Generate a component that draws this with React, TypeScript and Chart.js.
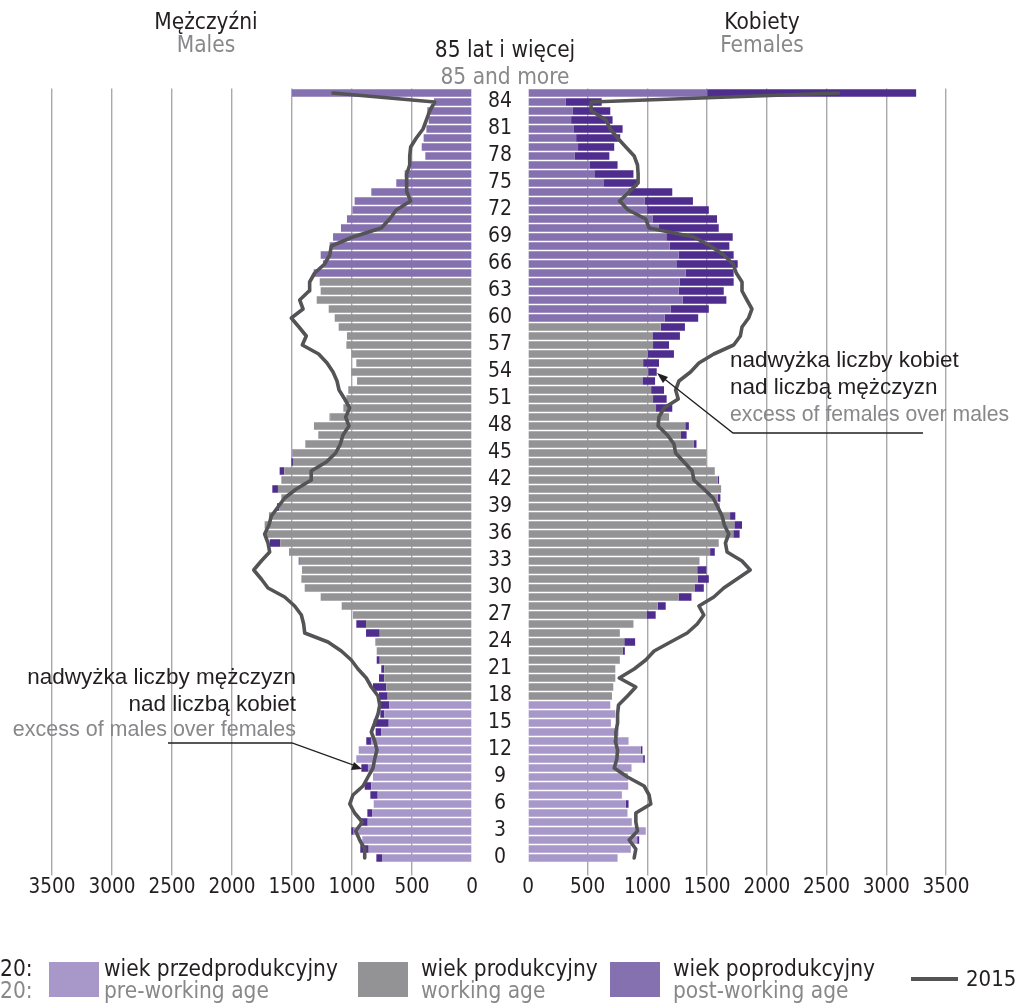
import React, { useEffect, useRef } from 'react';
import { Chart, registerables } from 'chart.js';

Chart.register(...registerables);

// ---------- data ----------
const ageLabels = [
  '0', '1', '2', '3', '4', '5', '6', '7', '8', '9',
  '10', '11', '12', '13', '14', '15', '16', '17', '18', '19',
  '20', '21', '22', '23', '24', '25', '26', '27', '28', '29',
  '30', '31', '32', '33', '34', '35', '36', '37', '38', '39',
  '40', '41', '42', '43', '44', '45', '46', '47', '48', '49',
  '50', '51', '52', '53', '54', '55', '56', '57', '58', '59',
  '60', '61', '62', '63', '64', '65', '66', '67', '68', '69',
  '70', '71', '72', '73', '74', '75', '76', '77', '78', '79',
  '80', '81', '82', '83', '84', '85+',
];

const males = [
  797, 931, 914, 1006, 936, 872, 819, 847, 894, 825,
  922, 964, 944, 881, 803, 819, 764, 769, 775, 825,
  775, 756, 794, 794, 806, 883, 964, 992, 1086, 1261,
  1394, 1422, 1417, 1444, 1525, 1686, 1719, 1728, 1692, 1625,
  1589, 1664, 1589, 1603, 1505, 1497, 1389, 1281, 1317, 1186,
  1072, 1047, 1031, 958, 1006, 964, 1003, 1047, 1042, 1111,
  1144, 1194, 1294, 1261, 1269, 1319, 1242, 1261, 1186, 1158,
  1092, 1042, 997, 978, 839, 631, 561, 514, 389, 419,
  403, 380, 361, 372, 317, 1500,
];

const females = [
  750, 861, 931, 986, 869, 833, 842, 786, 839, 833,
  867, 978, 958, 842, 758, 694, 731, 689, 703, 714,
  731, 731, 769, 811, 897, 769, 883, 1069, 1153, 1369,
  1472, 1514, 1494, 1436, 1564, 1597, 1772, 1792, 1736, 1606,
  1611, 1617, 1600, 1564, 1492, 1494, 1411, 1328, 1347, 1181,
  1208, 1161, 1139, 1064, 1078, 1097, 1222, 1181, 1272, 1314,
  1425, 1514, 1661, 1639, 1722, 1722, 1756, 1722, 1686, 1714,
  1597, 1583, 1514, 1381, 1208, 917, 883, 750, 681, 722,
  772, 792, 708, 689, 617, 3250,
];

const males2015 = [
  894, 894, 936, 969, 914, 978, 1019, 992, 908, 867,
  825, 811, 792, 811, 839, 811, 783, 769, 783, 839,
  881, 950, 1006, 1089, 1200, 1394, 1403, 1422, 1478, 1561,
  1700, 1756, 1819, 1756, 1686, 1700, 1728, 1692, 1672, 1617,
  1561, 1464, 1339, 1340, 1214, 1136, 1097, 1075, 1025, 1053,
  1019, 1061, 1108, 1125, 1158, 1208, 1278, 1414, 1381, 1442,
  1506, 1408, 1436, 1358, 1353, 1311, 1228, 1186, 1172, 992,
  756, 686, 631, 511, 542, 547, 542, 519, 519, 511,
  464, 408, 380, 353, 311, 1158,
];

const females2015 = [
  889, 903, 847, 917, 903, 903, 1028, 1014, 972, 833,
  722, 744, 750, 731, 736, 750, 750, 758, 833, 903,
  764, 889, 986, 1056, 1194, 1333, 1417, 1472, 1431, 1556,
  1639, 1750, 1861, 1792, 1667, 1653, 1681, 1644, 1625, 1589,
  1550, 1472, 1389, 1375, 1306, 1236, 1222, 1167, 1089, 1097,
  1139, 1258, 1236, 1264, 1361, 1431, 1556, 1722, 1778, 1792,
  1847, 1875, 1833, 1792, 1792, 1744, 1717, 1639, 1528, 1389,
  1014, 986, 839, 767, 847, 922, 922, 917, 889, 819,
  750, 689, 653, 533, 528, 2600,
];

const xTicks = [0, 500, 1000, 1500, 2000, 2500, 3000, 3500];

// age group boundaries (index of first age in group)
const WORKING_START = 18;
const MALE_POST_START = 65;
const FEMALE_POST_START = 60;

// ---------- styles ----------
const PRE = '#a898ca';
const WORK = '#939396';
const POST = '#8570b0';
const EXCESS = '#4f2d8e';
const LINE = '#545457';
const GRID = '#a9a9ab';
const TXT = '#231f20';
const SUB = '#88888b';
const COND = "'DejaVu Sans Condensed', 'Liberation Sans Narrow', 'Liberation Sans', sans-serif";
const REGULAR = "'Liberation Sans', Arial, sans-serif";

function buildDatasets(own: number[], other: number[], line: number[], postStart: number) {
  const base = own.map((v, i) => Math.min(v, other[i]));
  const excess = own.map((v, i) => Math.max(0, v - other[i]));
  const pick = (from: number, to: number) => base.map((v, i) => (i >= from && i < to ? v : null));
  const barCommon = { stack: 'pop', barPercentage: 0.84, categoryPercentage: 1, borderWidth: 0 };
  return [
    { type: 'bar', label: 'pre', data: pick(0, WORKING_START), backgroundColor: PRE, ...barCommon },
    { type: 'bar', label: 'work', data: pick(WORKING_START, postStart), backgroundColor: WORK, ...barCommon },
    { type: 'bar', label: 'post', data: pick(postStart, ageLabels.length), backgroundColor: POST, ...barCommon },
    { type: 'bar', label: 'excess', data: excess, backgroundColor: EXCESS, ...barCommon },
    {
      type: 'line', label: '2015', data: line, borderColor: LINE, borderWidth: 3.6,
      pointRadius: 0, tension: 0, stack: 'line', order: -1, borderJoinStyle: 'round', borderCapStyle: 'round',
    },
  ];
}

function makeConfig(side: 'left' | 'right'): any {
  const isLeft = side === 'left';
  const datasets = isLeft
    ? buildDatasets(males, females, males2015, MALE_POST_START)
    : buildDatasets(females, males, females2015, FEMALE_POST_START);
  return {
    type: 'bar',
    data: { labels: ageLabels, datasets },
    options: {
      indexAxis: 'y',
      responsive: false,
      animation: false,
      devicePixelRatio: 1,
      events: [],
      layout: { padding: isLeft ? { top: 88.5, left: 52, right: 0, bottom: 0 } : { top: 88.5, left: 28, right: 71, bottom: 0 } },
      plugins: { legend: { display: false }, tooltip: { enabled: false } },
      scales: {
        x: {
          type: 'linear',
          reverse: isLeft,
          min: xTicks[0],
          max: xTicks[xTicks.length - 1],
          stacked: true,
          afterBuildTicks: (s: any) => { s.ticks = xTicks.map((v) => ({ value: v })); },
          ticks: {
            color: TXT,
            font: { family: COND, size: 20.5, lineHeight: 1 },
            padding: 2,
            maxRotation: 0,
            autoSkip: false,
            callback: (v: any) => String(v),
          },
          grid: {
            color: (c: any) => (c.tick && c.tick.value === 0 ? 'rgba(0,0,0,0)' : GRID),
            lineWidth: 1.4,
            tickLength: 13,
          },
          border: { display: false },
          afterFit: (s: any) => { s.height = 47.5; },
        },
        y: {
          type: 'category',
          reverse: true,
          stacked: true,
          display: isLeft,
          position: 'right',
          grid: { display: false, drawTicks: false },
          border: { display: false },
          ticks: {
            autoSkip: false,
            color: TXT,
            font: { family: COND, size: 21, lineHeight: 1 },
            padding: 16,
            crossAlign: 'center',
            callback: (_v: any, i: number) => (i % 3 === 0 && i < ageLabels.length - 1 ? ageLabels[i] : ''),
          },
          afterFit: (s: any) => { if (isLeft) s.width = 56; },
        },
      },
    },
  };
}

function PyramidHalf({ side, left, width, height }: { side: 'left' | 'right'; left: number; width: number; height: number }) {
  const ref = useRef<HTMLCanvasElement>(null);
  useEffect(() => {
    const chart = new Chart(ref.current as HTMLCanvasElement, makeConfig(side));
    return () => chart.destroy();
  }, [side]);
  return (
    <canvas
      ref={ref}
      width={width}
      height={height}
      style={{ position: 'absolute', left, top: 0, width, height }}
    />
  );
}

type TProps = { x: number; y: number; children: React.ReactNode; align?: 'left' | 'center' | 'right'; size: number; color?: string; family?: string };
function T({ x, y, children, align = 'center', size, color = TXT, family = COND }: TProps) {
  const tx = align === 'center' ? '-50%' : align === 'right' ? '-100%' : '0';
  return (
    <div
      style={{
        position: 'absolute', left: x, top: y, transform: `translate(${tx}, -50%)`,
        fontFamily: family, fontSize: size, lineHeight: 1, color, whiteSpace: 'nowrap',
      }}
    >
      {children}
    </div>
  );
}

function Swatch({ x, color }: { x: number; color: string }) {
  return <div style={{ position: 'absolute', left: x, top: 962, width: 50, height: 35, background: color }} />;
}

export default function App() {
  return (
    <div style={{ position: 'absolute', left: 0, top: 0, width: 1017, height: 1003, background: '#fff', overflow: 'hidden' }}>
      <PyramidHalf side="left" left={0} width={528} height={910} />
      <PyramidHalf side="right" left={500} width={517} height={910} />

      <T x={206} y={21} size={22.5}>Mężczyźni</T>
      <T x={206} y={44} size={22.5} color={SUB}>Males</T>
      <T x={762} y={21} size={22.5}>Kobiety</T>
      <T x={762} y={44} size={22.5} color={SUB}>Females</T>
      <T x={505} y={49} size={22.5}>85 lat i więcej</T>
      <T x={505} y={76} size={22.5} color={SUB}>85 and more</T>

      <T x={730} y={360} align="left" size={22.5} family={REGULAR}>nadwyżka liczby kobiet</T>
      <T x={730} y={387} align="left" size={22.5} family={REGULAR}>nad liczbą mężczyzn</T>
      <T x={730} y={414} align="left" size={21.2} family={REGULAR} color={SUB}>excess of females over males</T>

      <T x={296} y={677} align="right" size={22.5} family={REGULAR}>nadwyżka liczby mężczyzn</T>
      <T x={296} y={704} align="right" size={22.5} family={REGULAR}>nad liczbą kobiet</T>
      <T x={296} y={730} align="right" size={21.5} family={REGULAR} color={SUB}>excess of males over females</T>

      <svg width={1017} height={1003} style={{ position: 'absolute', left: 0, top: 0, pointerEvents: 'none' }}>
        <polyline points="923,433 733,433 662,377" fill="none" stroke="#231f20" strokeWidth={1.3} />
        <polygon points="657,373 668,377 663,383" fill="#231f20" />
        <polyline points="168,743 292,743 356,766" fill="none" stroke="#231f20" strokeWidth={1.3} />
        <polygon points="362,769 351,770 354,762" fill="#231f20" />
      </svg>

      <T x={0} y={968} align="left" size={22.5}>20:</T>
      <T x={0} y={990} align="left" size={22.5} color={SUB}>20:</T>
      <Swatch x={49} color={PRE} />
      <Swatch x={358} color={WORK} />
      <Swatch x={610} color={POST} />
      <T x={104} y={968} align="left" size={22.5}>wiek przedprodukcyjny</T>
      <T x={104} y={990} align="left" size={22.5} color={SUB}>pre-working age</T>
      <T x={421} y={968} align="left" size={22.5}>wiek produkcyjny</T>
      <T x={421} y={990} align="left" size={22.5} color={SUB}>working age</T>
      <T x={673} y={968} align="left" size={22.5}>wiek poprodukcyjny</T>
      <T x={673} y={990} align="left" size={22.5} color={SUB}>post-working age</T>
      <div style={{ position: 'absolute', left: 911, top: 977, width: 47, height: 4, background: LINE }} />
      <T x={966} y={979} align="left" size={22}>2015</T>
    </div>
  );
}
